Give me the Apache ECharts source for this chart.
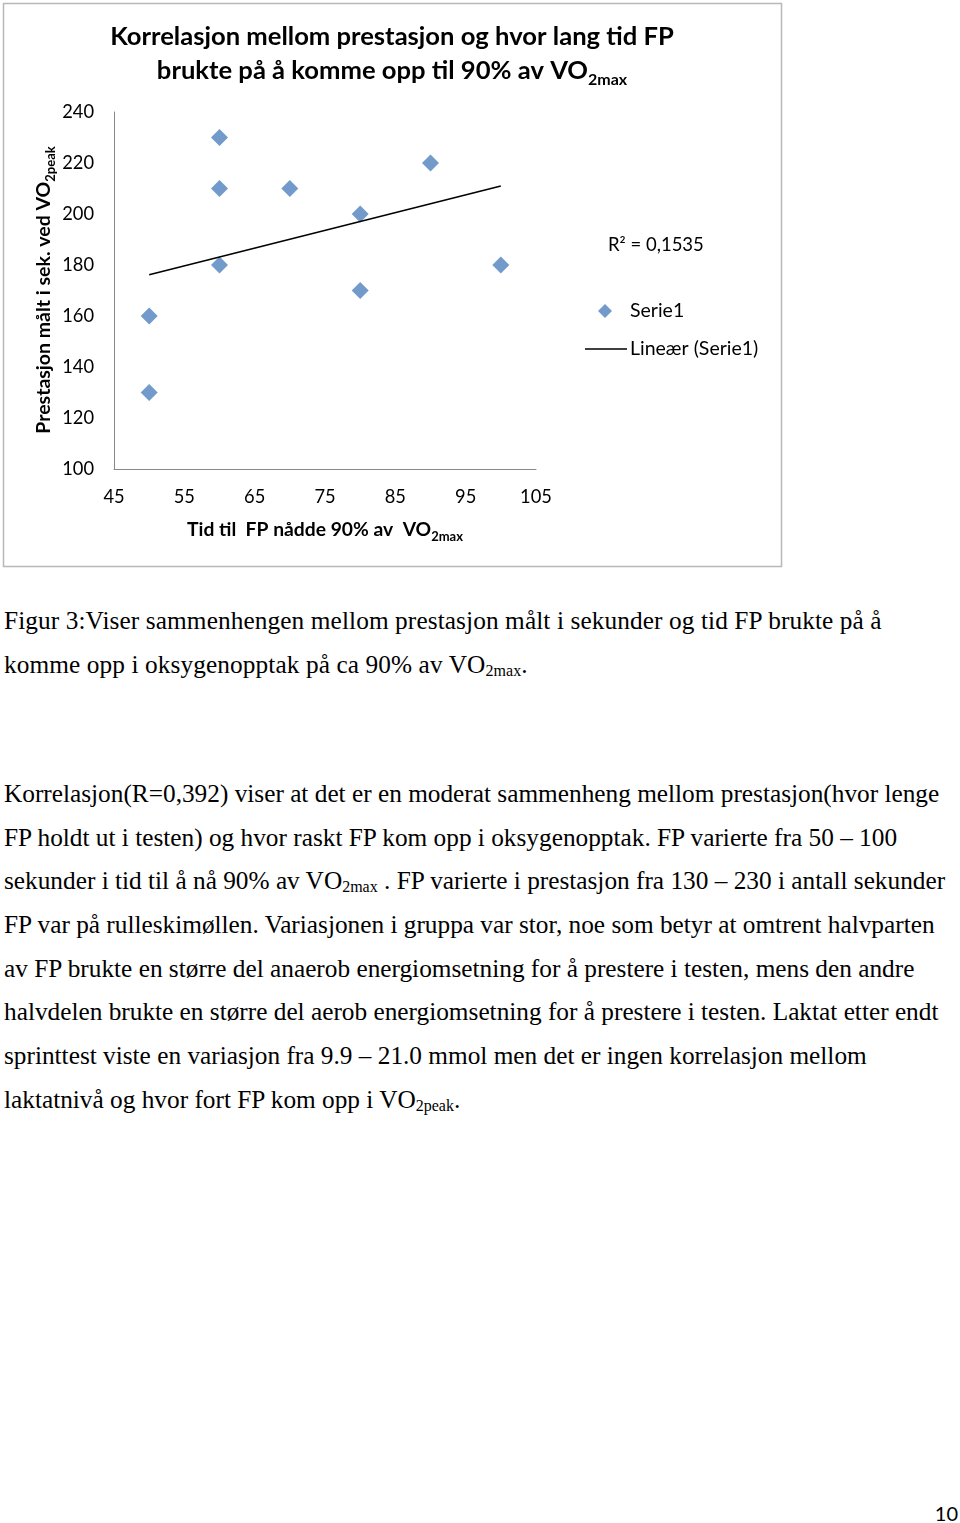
<!DOCTYPE html>
<html>
<head>
<meta charset="utf-8">
<script src="https://cdn.jsdelivr.net/npm/echarts@6/dist/echarts.min.js"></script>
<style>
  html, body { margin: 0; padding: 0; background: #fff; }
  body { width: 960px; height: 1523px; position: relative; overflow: hidden; }
  #chart { position: absolute; left: 0; top: 0; width: 960px; height: 575px; }
  .ln { position: absolute; left: 4px; white-space: pre; font-family: "Liberation Serif", "Times New Roman", serif; font-size: 25.3px; line-height: 44px; color: #000; }
  .ln sub { font-size: 16px; vertical-align: baseline; position: relative; top: 3px; }
  .cap { letter-spacing: 0.1px; }
  #pg { position: absolute; right: 2px; top: 1500px; font-family: Lato, "Noto Sans", sans-serif; font-size: 20px; line-height: 26px; color: #000; }
</style>
</head>
<body>
<div id="chart"></div>
<div class="ln cap" style="top:598px">Figur 3:Viser sammenhengen mellom prestasjon målt i sekunder og tid FP brukte på å</div>
<div class="ln cap" style="top:642px">komme opp i oksygenopptak på ca 90% av VO<sub>2max</sub>.</div>
<div class="ln" style="top:771px">Korrelasjon(R=0,392) viser at det er en moderat sammenheng mellom prestasjon(hvor lenge</div>
<div class="ln" style="top:815px">FP holdt ut i testen) og hvor raskt FP kom opp i oksygenopptak. FP varierte fra 50 – 100</div>
<div class="ln" style="top:858px">sekunder i tid til å nå 90% av VO<sub>2max</sub> . FP varierte i prestasjon fra 130 – 230 i antall sekunder</div>
<div class="ln" style="top:902px">FP var på rulleskimøllen. Variasjonen i gruppa var stor, noe som betyr at omtrent halvparten</div>
<div class="ln" style="top:946px">av FP brukte en større del anaerob energiomsetning for å prestere i testen, mens den andre</div>
<div class="ln" style="top:989px">halvdelen brukte en større del aerob energiomsetning for å prestere i testen. Laktat etter endt</div>
<div class="ln" style="top:1033px">sprinttest viste en variasjon fra 9.9 – 21.0 mmol men det er ingen korrelasjon mellom</div>
<div class="ln" style="top:1077px">laktatnivå og hvor fort FP kom opp i VO<sub>2peak</sub>.</div>
<div id="pg">10</div>
<script>
// ---- data ----
const timeToVO2 = [50, 50, 60, 60, 60, 70, 80, 80, 90, 100];
const performance = [130, 160, 230, 210, 180, 210, 200, 170, 220, 180];
const trendX = [50, 100];
const trendY = [176.2, 211];
const xTicks = [45, 55, 65, 75, 85, 95, 105];
const yTicks = [100, 120, 140, 160, 180, 200, 220, 240];
const seriesName = 'Serie1';
const trendName = 'Lineær (Serie1)';
const r2Text = 'R² = 0,1535';

const FONT = 'Lato, "Noto Sans", sans-serif';
const chart = echarts.init(document.getElementById('chart'), null, { renderer: 'canvas' });

const scatterData = timeToVO2.map((x, i) => [x, performance[i]]);
const trendData = trendX.map((x, i) => [x, trendY[i]]);

const option = {
  animation: false,
  backgroundColor: '#fff',
  grid: { left: 114, top: 112, width: 422, height: 357, containLabel: false },
  xAxis: {
    type: 'value', min: xTicks[0], max: xTicks[xTicks.length - 1], interval: 10,
    axisLine: { show: true, lineStyle: { color: '#888', width: 1 } },
    axisTick: { show: false },
    splitLine: { show: false },
    axisLabel: { color: '#000', fontSize: 18.3, fontFamily: FONT, margin: 19 }
  },
  yAxis: {
    type: 'value', min: yTicks[0], max: yTicks[yTicks.length - 1], interval: 20,
    axisLine: { show: true, lineStyle: { color: '#888', width: 1 } },
    axisTick: { show: false },
    splitLine: { show: false },
    axisLabel: { color: '#000', fontSize: 18.3, fontFamily: FONT, margin: 20 }
  },
  legend: [
    {
      orient: 'vertical', left: 593, top: 296,
      itemWidth: 14, itemHeight: 14,
      textStyle: { color: '#000', fontSize: 19.5, fontFamily: FONT, padding: [0, 0, 0, 13] },
      data: [{ name: seriesName, icon: 'diamond' }]
    },
    {
      orient: 'vertical', left: 580, top: 334,
      itemWidth: 42, itemHeight: 14, symbolKeepAspect: true,
      textStyle: { color: '#000', fontSize: 19.5, fontFamily: FONT, padding: [0, 0, 0, -2] },
      data: [{ name: trendName, icon: 'path://M0,0L56,0L56,2L0,2Z', itemStyle: { color: '#000' } }]
    }
  ],
  series: [
    {
      name: seriesName, type: 'scatter', data: scatterData,
      symbol: 'diamond', symbolSize: 17,
      itemStyle: { color: '#4F81BD' }
    },
    {
      name: trendName, type: 'line', data: trendData,
      symbol: 'none', showSymbol: false,
      lineStyle: { color: '#000', width: 1.5 },
      itemStyle: { color: '#000' }
    }
  ],
  graphic: [
    {
      type: 'rect', silent: true,
      shape: { x: 3.5, y: 3.5, width: 778, height: 563 },
      style: { fill: null, stroke: '#b8b8b8', lineWidth: 1.5 }
    },
    {
      type: 'text', x: 392, y: 20, silent: true,
      style: {
        text: 'Korrelasjon mellom prestasjon og hvor lang tid FP\nbrukte på å komme opp til 90% av VO{s|2max}',
        align: 'center', verticalAlign: 'top',
        font: 'bold 25.6px ' + FONT, fill: '#000', lineHeight: 34,
        rich: { s: { font: 'bold 16px ' + FONT, fill: '#000', verticalAlign: 'bottom', lineHeight: 16 } }
      }
    },
    {
      type: 'text', x: 44, y: 290, rotation: Math.PI / 2, silent: true,
      style: {
        text: 'Prestasjon målt i sek. ved VO{s|2peak}',
        align: 'center', verticalAlign: 'middle',
        font: 'bold 19.5px ' + FONT, fill: '#000', lineHeight: 26,
        rich: { s: { font: 'bold 13px ' + FONT, fill: '#000', verticalAlign: 'bottom', lineHeight: 13 } }
      }
    },
    {
      type: 'text', x: 325, y: 530, silent: true,
      style: {
        text: 'Tid til  FP nådde 90% av  VO{s|2max}',
        align: 'center', verticalAlign: 'middle',
        font: 'bold 19.3px ' + FONT, fill: '#000', lineHeight: 26,
        rich: { s: { font: 'bold 13px ' + FONT, fill: '#000', verticalAlign: 'bottom', lineHeight: 13 } }
      }
    },
    {
      type: 'text', x: 608, y: 245, silent: true,
      style: { text: r2Text, align: 'left', verticalAlign: 'middle', font: '18.5px ' + FONT, fill: '#000' }
    }
  ]
};
chart.setOption(option);
</script>
</body>
</html>
